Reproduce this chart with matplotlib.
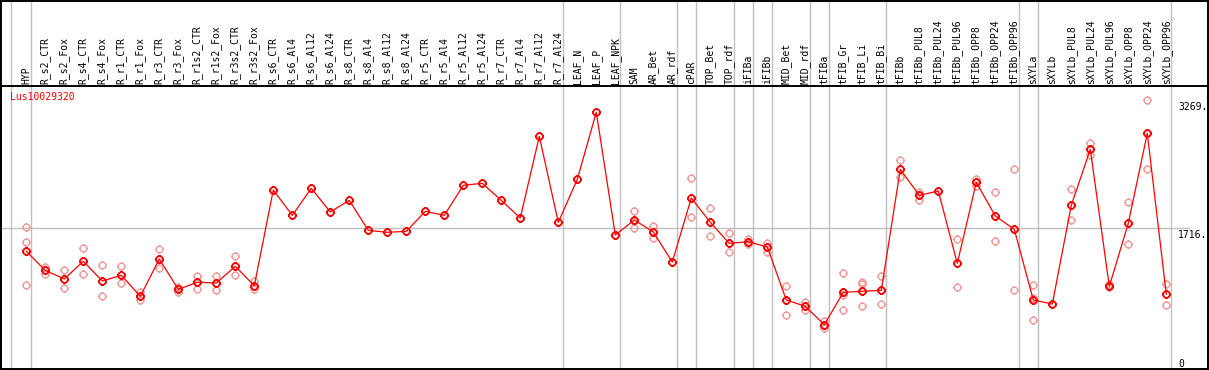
import matplotlib
matplotlib.use("Agg")
import matplotlib.pyplot as plt
import numpy as np
from matplotlib.path import Path
from matplotlib.transforms import blended_transform_factory
from matplotlib.lines import Line2D
from matplotlib.patches import Rectangle

categories = ["HYP", "R_s2_CTR", "R_s2_Fox", "R_s4_CTR", "R_s4_Fox", "R_r1_CTR", "R_r1_Fox",
              "R_r3_CTR", "R_r3_Fox", "R_r1s2_CTR", "R_r1s2_Fox", "R_r3s2_CTR", "R_r3s2_Fox",
              "R_s6_CTR", "R_s6_Al4", "R_s6_Al12", "R_s6_Al24", "R_s8_CTR", "R_s8_Al4",
              "R_s8_Al12", "R_s8_Al24", "R_r5_CTR", "R_r5_Al4", "R_r5_Al12", "R_r5_Al24",
              "R_r7_CTR", "R_r7_Al4", "R_r7_Al12", "R_r7_Al24", "LEAF_N", "LEAF_P", "LEAF_NPK",
              "SAM", "AR_Bet", "AR_rdf", "cPAR", "TOP_Bet", "TOP_rdf", "iFIBa", "iFIBb",
              "MID_Bet", "MID_rdf", "tFIBa", "tFIB_Gr", "tFIB_Li", "tFIB_Bi", "tFIBb",
              "tFIBb_PUL8", "tFIBb_PUL24", "tFIBb_PUL96", "tFIBb_OPP8", "tFIBb_OPP24",
              "tFIBb_OPP96", "sXYLa", "sXYLb", "sXYLb_PUL8", "sXYLb_PUL24", "sXYLb_PUL96",
              "sXYLb_OPP8", "sXYLb_OPP24", "sXYLb_OPP96"]

group_sizes = [1, 28, 3, 3, 1, 2, 1, 1, 2, 1, 3, 7, 1, 7]

means = [1429, 1198, 1093, 1308, 1069, 1138, 883, 1336, 968, 1053, 1044, 1247, 1012,
         2174, 1866, 2194, 1907, 2048, 1684, 1660, 1672, 1915, 1866, 2231, 2255, 2048,
         1834, 2826, 1781, 2304, 3118, 1627, 1810, 1664, 1299, 2077, 1781, 1526, 1546,
         1482, 838, 761, 538, 931, 944, 956, 2425, 2109, 2162, 1283, 2267, 1858, 1697,
         838, 789, 1988, 2668, 1004, 1769, 2862, 907]

replicates = [[1725, 1546, 1016], [1243, 1158], [1198, 980], [1470, 1154], [1263, 883],
              [1247, 1041], [939, 838], [1457, 1223], [996, 939], [1133, 972], [1133, 956],
              [1372, 1138], [1073, 972],
              [], [], [], [], [], [], [], [], [], [], [], [], [], [], [], [], [], [], [],
              [1919, 1800, 1709], [1740, 1660, 1595], [], [2316, 1842], [1951, 1615],
              [1648, 1417], [1579, 1518], [1534, 1417], [1004, 656], [810, 717], [583, 502],
              [1166, 899, 717], [1060, 1029, 761], [1129, 786], [2538, 2328], [2150, 2056],
              [], [1575, 996], [2311, 2226], [2146, 1551], [2425, 959], [1020, 866, 595],
              [], [2186, 1806], [2745, 2595], [1029, 992], [2028, 1518], [3269, 2425],
              [1029, 773]]

gene_name = "Lus10029320"
ytick_values = [3269, 1716, 0]
ytick_labels = ["3269.", "1716.", "0"]
ref_line = 1716

W, H = 1209, 370
fig = plt.figure(figsize=(W / 100, H / 100), dpi=100)
fig.patch.set_facecolor("white")

# axes geometry (pixels from top-left)
left_px, right_px, top_px, bot_px = 1.0, 1207.5, 85.5, 369.0
ax = fig.add_axes([left_px / W, (H - bot_px) / H, (right_px - left_px) / W, (bot_px - top_px) / H])
ax.set_zorder(2)
ax.patch.set_alpha(0)
step = 19.0
xmin = -(26.3 - left_px) / step
xmax = xmin + (right_px - left_px) / step
ax.set_xlim(xmin, xmax)
ax.set_ylim(0, 3443)
ax.set_xticks([])
ax.set_yticks([])
for s in ax.spines.values():
    s.set_color("black")
    s.set_linewidth(1.4)

mono = "DejaVu Sans Mono"
fs = 7

x = np.arange(len(categories))

# grid lines (behind the axes content)
ax.axhline(ref_line, color="#c0c0c0", lw=1.0, zorder=1, xmax=0.985)
trans = blended_transform_factory(ax.transData, fig.transFigure)
bounds = [-0.8] + list(np.cumsum(group_sizes) - 1 + 0.226)
for b in bounds:
    fig.add_artist(Line2D([b, b], [0, 1], transform=trans, color="#c0c0c0", lw=1.0,
                          zorder=0.5, clip_on=False))

# header labels
label_y = (H - 83.5) / H
for xi, c in zip(x, categories):
    t = fig.text(xi, label_y, c, transform=trans, rotation=90, ha="center", va="bottom",
                 fontsize=fs, family=mono, color="black")
    t.set_zorder(3)

# figure border
fig.add_artist(Rectangle((0.5 / W, 0.5 / H), (W - 2) / W, (H - 1.2) / H,
                         transform=fig.transFigure, fill=False, edgecolor="black", lw=1.4,
                         zorder=4))

# custom marker: circle with four small ticks
circ = Path.unit_circle()
ticks = []
for dx, dy in [(0, 1), (0, -1), (1, 0), (-1, 0)]:
    ticks.append(Path([(dx * 1.0, dy * 1.0), (dx * 1.35, dy * 1.35)], [Path.MOVETO, Path.LINETO]))
marker_path = Path.make_compound_path(circ, *ticks)

# replicates
rx, ry = [], []
for xi, reps in zip(x, replicates):
    for r in reps:
        rx.append(xi)
        ry.append(r)
ax.plot(rx, ry, linestyle="none", marker=marker_path, markersize=6.5, markerfacecolor="none",
        markeredgecolor="#f09a9a", markeredgewidth=1.0, zorder=2)

# mean line + markers
ax.plot(x, means, color="red", lw=0.9, zorder=3)
ax.plot(x, means, linestyle="none", marker=marker_path, markersize=6.5, markerfacecolor="none",
        markeredgecolor="red", markeredgewidth=1.3, zorder=4)

# gene name
ax.text((10 - left_px) / (right_px - left_px), 1 - (92 - top_px) / (bot_px - top_px), gene_name,
        transform=ax.transAxes, color="red", fontsize=fs, family=mono, ha="left", va="top",
        zorder=5)

# y labels on the right
ytrans = blended_transform_factory(ax.transAxes, ax.transData)
lx = (1178 - left_px) / (right_px - left_px)
for v, t in zip(ytick_values, ytick_labels):
    if v == 0:
        ax.text(lx, v, t, transform=ytrans, fontsize=fs, family=mono, ha="left", va="bottom",
                color="black", zorder=5)
    else:
        ax.annotate(t, (lx, v), xycoords=ytrans, xytext=(0, -1.5), textcoords="offset points",
                    fontsize=fs, family=mono, ha="left", va="top", color="black", zorder=5)

fig.savefig("out.png", dpi=100, facecolor="white")
